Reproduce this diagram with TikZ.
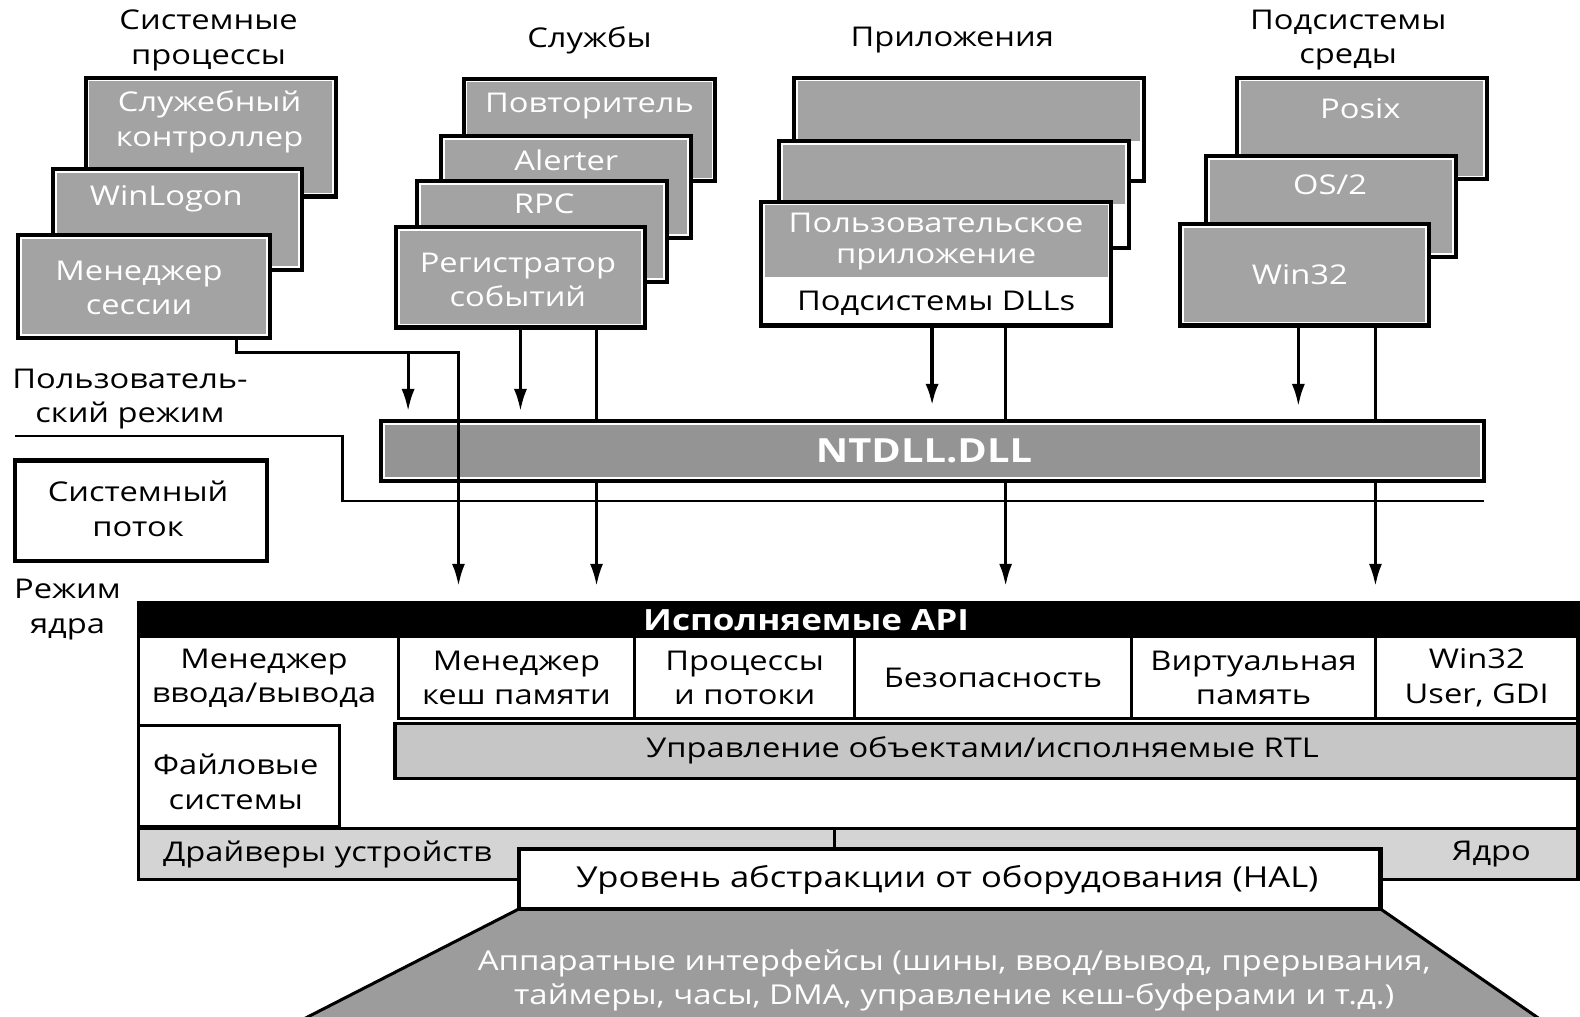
\documentclass[tikz,border=0pt]{standalone}
\usepackage{fontspec}
\setmainfont{Open Sans}[FakeStretch=1.2]
\usepackage{tikz}
\usetikzlibrary{arrows.meta,positioning,fit,calc}
\definecolor{boxgray}{HTML}{A3A3A3}
\definecolor{dllgray}{HTML}{949494}
\definecolor{rtlgray}{HTML}{C6C6C6}
\definecolor{drvgray}{HTML}{D4D4D4}
\definecolor{hwgray}{HTML}{9C9C9C}
\newcommand{\lbl}{\fontsize{13.5}{17}\selectfont}
\tikzset{every node/.append style={align=center, font=\lbl}}
\tikzset{
  panel/.style={draw=black, line width=2pt, fill=white, inner sep=0pt,
    path picture={\fill[boxgray] ([shift={(1.9pt,-1.9pt)}]path picture bounding box.north west)
      rectangle ([shift={(-1.9pt,#1)}]path picture bounding box.south east);}},
  panel/.default=1.9pt,
  dllpanel/.style={draw=black, line width=2pt, fill=white, inner sep=0pt,
    path picture={\fill[dllgray] ([shift={(1.9pt,-1.9pt)}]path picture bounding box.north west)
      rectangle ([shift={(-1.9pt,1.9pt)}]path picture bounding box.south east);}},
  proctext/.style={text=white},
  caption/.style={text=black},
  cell/.style={draw=black, line width=1.5pt, fill=white, inner sep=0pt},
  wire/.style={line width=1.5pt},
  arr/.style={wire, -{Latex[length=11pt,width=6.5pt]}},
  boundary/.style={line width=1.1pt}
}
\begin{document}
\begin{tikzpicture}[x=0.5pt, y=-0.5pt]
  \useasboundingbox (0,0) rectangle (1568,1009);
  % group captions
  \node[caption] (syscap) at (207,40) {Системные\\процессы};
  \node[caption] (svccap) at (585,40) {Службы};
  \node[caption] (appcap) at (945,40) {Приложения};
  \node[caption] (envcap) at (1338,40) {Подсистемы\\среды};

  % system processes
  \node[panel, fit={(85,77) (333,195)}] (sc) {};
  \node[proctext] (sctext) at (208,121) {Служебный\\контроллер};
  \node[panel, fit={(53,168) (300,268)}] (wl) {};
  \node[proctext] (wltext) at (165,197) {WinLogon};
  \node[panel, fit={(18,233) (268,335)}] (ses) {};
  \node[proctext] (sestext) at (138,286) {Менеджер\\сессии};

  % services
  \node[panel, fit={(460,78) (710,180)}] (rep) {};
  \node[proctext] (reptext) at (585,105) {Повторитель};
  \node[panel, fit={(438,135) (686,236)}] (alt) {};
  \node[proctext] (alttext) at (562,159) {Alerter};
  \node[panel, fit={(414,180) (662,280)}] (rpc) {};
  \node[proctext] (rpctext) at (540,202) {RPC};
  \node[panel, fit={(393,225) (640,325)}] (reg) {};
  \node[proctext] (regtext) at (514,278) {Регистратор\\событий};

  % applications
  \node[panel=20pt, fit={(788,77) (1135,180)}] (app1) {};
  \node[panel=22pt, fit={(773,140) (1120,246)}] (app2) {};
  \node[panel=24pt, fit={(755,200) (1103,323)}] (app) {};
  \node[proctext, font=\fontsize{13.5}{15.5}\selectfont] (apptext) at (929,240) {Пользовательское\\приложение};
  \node[caption] (dlltext) at (929,301) {Подсистемы DLLs};

  % environment subsystems
  \node[panel, fit={(1228,77) (1476,178)}] (posix) {};
  \node[proctext] (posixtext) at (1350,108) {Posix};
  \node[panel, fit={(1197,155) (1445,255)}] (os2) {};
  \node[proctext] (os2text) at (1320,183) {OS/2};
  \node[panel, fit={(1171,222) (1418,323)}] (win) {};
  \node[proctext] (wintext) at (1290,273) {Win32};

  % left side labels
  \node[caption] (umlabel) at (129,396) {Пользователь-\\ский режим};
  \node[cell, line width=2pt, fit={(15,457) (265,557)}] (systhread) {};
  \node[caption] (systext) at (137,505) {Системный\\поток};
  \node[caption] (kmlabel) at (67,605) {Режим\\ядра};

  % user/kernel boundary
  \coordinate (umstart) at (15,433);
  \coordinate (kmend) at (1473,497);
  \draw[boundary] (umstart) -- ++(325,0) |- (kmend);

  % executive
  \node[cell, fit={(137,598) (1566,873)}] (kblock) {};
  \node[cell, fill=black, fit={(137,598) (1566,632)}] (api) {};
  \node[text=white, font=\fontsize{14.5}{17}\selectfont\bfseries] (apitext) at (800,615) {Исполняемые API};
  \node[caption] (iotext) at (262,673) {Менеджер\\ввода/вывода};
  \node[cell, fit={(395,632) (630,713)}, label={center:Менеджер\\кеш памяти}] (cache) {};
  \node[cell, fit={(630,632) (848,713)}, label={center:Процессы\\и потоки}] (proc) {};
  \node[cell, fit={(848,632) (1123,713)}, label={center:Безопасность}] (sec) {};
  \node[cell, fit={(1123,632) (1365,713)}, label={center:Виртуальная\\память}] (vm) {};
  \node[cell, fit={(1365,632) (1566,713)}, label={center:Win32\\User, GDI}] (gdi) {};
  \node[cell, fill=rtlgray, fit={(392,718) (1566,773)}] (rtl) {};
  \node[caption] (rtltext) at (975,745) {Управление объектами/исполняемые RTL};
  \node[cell, fit={(137,720) (337,820)}] (fs) {};
  \node[caption] (fstext) at (234,776) {Файловые\\системы};
  \node[cell, fill=drvgray, fit={(137,822) (828,873)}] (drv) {};
  \node[caption] (drvtext) at (325,848) {Драйверы устройств};
  \node[cell, fill=drvgray, fit={(828,822) (1566,873)}] (core) {};
  \node[caption] (coretext) at (1480,848) {Ядро};

  % hardware
  \fill[hwgray] (515,902) -- (1370,902) -- (1532,1014) -- (296,1014) -- cycle;
  \draw[line width=1.5pt] (296,1014) -- (515,902) (1370,902) -- (1532,1014);
  \node[text=white, font=\fontsize{13.6}{16.5}\selectfont] (hwtext) at (947,973) {Аппаратные интерфейсы (шины, ввод/вывод, прерывания,\\таймеры, часы, DMA, управление кеш-буферами и т.д.)};
  \node[cell, line width=2pt, fit={(515,843) (1370,902)}] (hal) {};
  \node[caption, font=\fontsize{14.3}{17}\selectfont] (haltext) at (940,873) {Уровень абстракции от оборудования (HAL)};

  % calls that bypass NTDLL
  \coordinate (regdrop) at ([xshift=37.75pt]reg.south);
  \coordinate (appdrop) at ([xshift=34.5pt]app.south);
  \coordinate (windrop) at ([xshift=35.25pt]win.south);
  \draw[arr, shorten >=7.5pt] (regdrop) -- (regdrop |- api.north);
  \draw[arr, shorten >=7.5pt] (appdrop) -- (appdrop |- api.north);
  \draw[arr, shorten >=7.5pt] (windrop) -- (windrop |- api.north);

  \node[dllpanel, fit={(378,418) (1473,477)}] (ntdll) {};
  \node[text=white, font=\fontsize{16.5}{18}\selectfont\bfseries] (ntdlltext) at (917,447) {NTDLL.DLL};

  % session manager
  \coordinate (sesbend) at (235,350);
  \coordinate (sesfork) at (405,350);
  \coordinate (sesdrop) at (455,350);
  \draw[arr, shorten >=7.5pt] (ses.south -| sesbend) -- (sesbend) -- (sesdrop) -- (sesdrop |- api.north);
  \draw[arr, shorten >=4pt] (sesfork) -- (sesfork |- ntdll.north);

  % calls into NTDLL
  \draw[arr, shorten >=4pt] (reg.south) -- (reg.south |- ntdll.north);
  \draw[arr, line width=2pt, shorten >=6.5pt] ([xshift=-2pt]app.south) -- ([xshift=-2pt]app.south |- ntdll.north);
  \draw[arr, shorten >=6.5pt] ([xshift=-3pt]win.south) -- ([xshift=-3pt]win.south |- ntdll.north);
\end{tikzpicture}
\end{document}
